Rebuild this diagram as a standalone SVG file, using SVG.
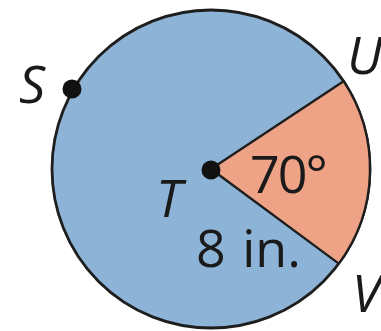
<svg xmlns="http://www.w3.org/2000/svg" width="381" height="331" viewBox="0 0 381 331">
<style>
text{font-family:"Open Sans","Liberation Sans",sans-serif;font-size:52px;fill:#1a1a1a}
.it{font-style:italic}
.dot{fill:#111}
</style>
<rect width="381" height="331" fill="#fff"/>
<g id="circle">
<circle cx="211" cy="169" r="159" fill="#8db3d6" stroke="#1e1e1e" stroke-width="2.8"/>
</g>
<g id="sector">
<path d="M211 169 L343.6 81.2 A159 159 0 0 1 338.8 263.6 Z" fill="#eea386" stroke="#1e1e1e" stroke-width="2.4" stroke-linejoin="round"/>
</g>
<g id="S"><circle class="dot" cx="72" cy="89" r="9.5"/><text class="it" x="19" y="103">S</text></g>
<g id="T"><circle class="dot" cx="211" cy="170" r="9.5"/><text class="it" x="156" y="217">T</text></g>
<g id="U"><text class="it" x="347" y="74">U</text></g>
<g id="V"><text class="it" x="352" y="312">V</text></g>
<g id="labels">
<text x="250" y="193" letter-spacing="-2">70°</text>
<text x="196" y="267" word-spacing="3">8 in.</text>
</g>
</svg>
